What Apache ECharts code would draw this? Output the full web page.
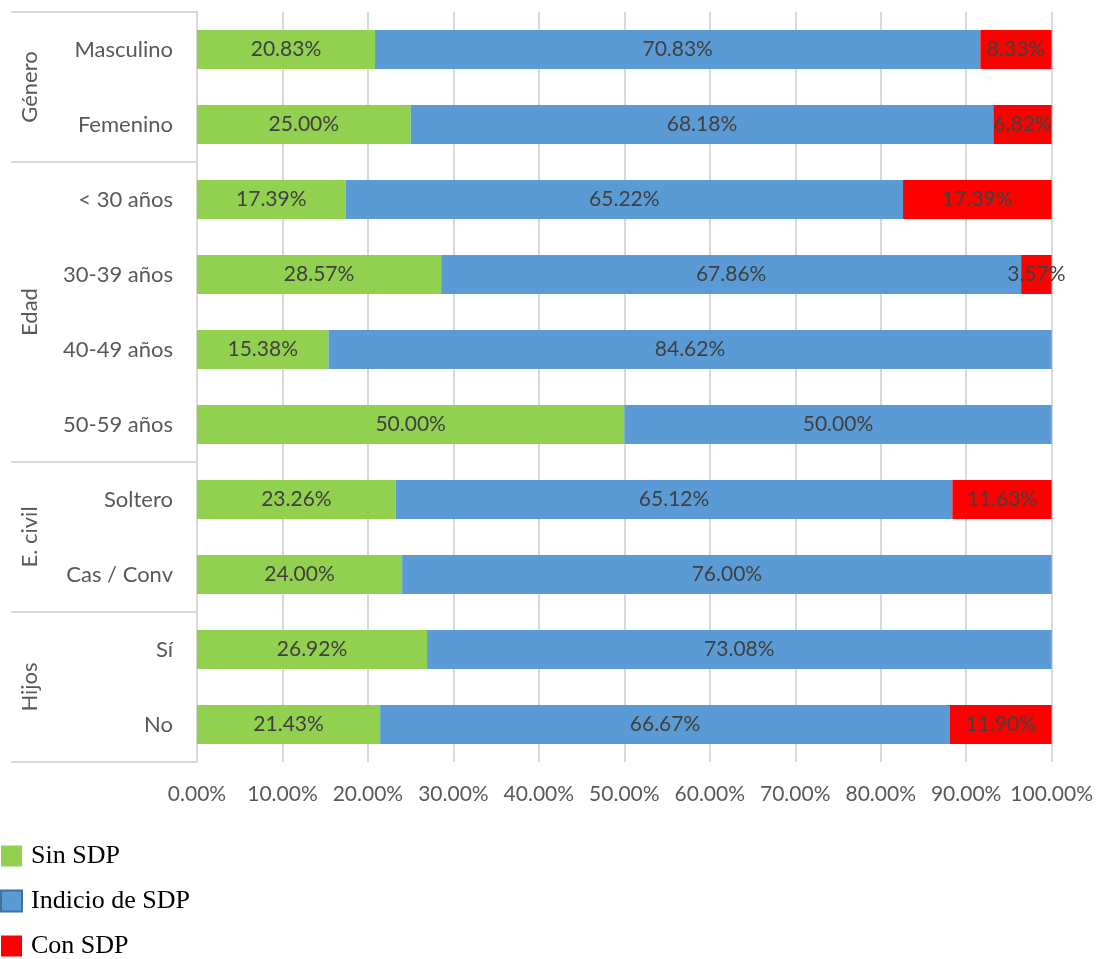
<!DOCTYPE html>
<html>
<head>
<meta charset="utf-8">
<script src="https://cdn.jsdelivr.net/npm/echarts@6/dist/echarts.min.js"></script>
<style>html,body{margin:0;padding:0;background:#fff}#c{width:1096px;height:959px}</style>
</head>
<body>
<div id="c"></div>
<script>
const categories = ['Masculino','Femenino','< 30 años','30-39 años','40-49 años','50-59 años','Soltero','Cas / Conv','Sí','No'];
const groups = [
  {name:'Género', from:0, to:1},
  {name:'Edad', from:2, to:5},
  {name:'E. civil', from:6, to:7},
  {name:'Hijos', from:8, to:9}
];
const sinSDP = [20.83,25.00,17.39,28.57,15.38,50.00,23.26,24.00,26.92,21.43];
const indicioSDP = [70.83,68.18,65.22,67.86,84.62,50.00,65.12,76.00,73.08,66.67];
const conSDP = [8.33,6.82,17.39,3.57,0,0,11.63,0,0,11.90];
const seriesNames = ['Sin SDP','Indicio de SDP','Con SDP'];
const colors = ['#92D050','#5B9BD5','#FF0000'];

const font = 'Lato, "Open Sans", sans-serif';
const chart = echarts.init(document.getElementById('c'));
function mk(name, data, color){
  return {
    name, type:'bar', stack:'t', data, barWidth:39,
    itemStyle:{color},
    label:{show:true, position:'inside', color:'#404040', fontSize:21, fontFamily:font,
      formatter:p=> p.value>0 ? p.value.toFixed(2)+'%' : ''}
  };
}
const option = {
  animation:false,
  grid:{left:197, right:42, top:12, bottom:197, containLabel:false},
  legend:{
    orient:'vertical', left:0, top:843, height:117, itemWidth:21, itemHeight:21, itemGap:19,
    icon:'rect', padding:[0,0,0,0],
    textStyle:{fontFamily:'"Liberation Serif", "Times New Roman", serif', fontSize:26, color:'#000', padding:[0,0,0,4]},
    data:[
      {name:'Sin SDP'},
      {name:'Indicio de SDP', itemStyle:{borderColor:'#41719C', borderWidth:2}},
      {name:'Con SDP'}
    ]
  },
  xAxis:{
    type:'value', min:0, max:100, interval:10,
    axisLine:{show:false}, axisTick:{show:false},
    splitLine:{lineStyle:{color:'#D9D9D9', width:2}},
    axisLabel:{formatter:v=>v.toFixed(2)+'%', color:'#595959', fontSize:21, fontFamily:font, margin:22}
  },
  yAxis:{
    type:'category', inverse:true, data:categories,
    axisLine:{lineStyle:{color:'#D9D9D9', width:2}},
    axisTick:{show:false},
    axisLabel:{color:'#595959', fontSize:22, fontFamily:font, margin:24}
  },
  series:[mk(seriesNames[0], sinSDP, colors[0]), mk(seriesNames[1], indicioSDP, colors[1]), mk(seriesNames[2], conSDP, colors[2])]
};
chart.setOption(option);

function drawGroups(){
  const g = [];
  const x0 = chart.convertToPixel({gridIndex:0}, [0, 0])[0];
  const band = chart.convertToPixel({yAxisIndex:0}, categories[1]) - chart.convertToPixel({yAxisIndex:0}, categories[0]);
  const edges = new Set();
  groups.forEach(gr=>{
    const top = chart.convertToPixel({yAxisIndex:0}, categories[gr.from]) - band/2;
    const bot = chart.convertToPixel({yAxisIndex:0}, categories[gr.to]) + band/2;
    edges.add(Math.round(top)); edges.add(Math.round(bot));
    g.push({type:'text', x:30, y:(top+bot)/2, rotation:Math.PI/2,
      style:{text:gr.name, fill:'#595959', font:'22px '+font, textAlign:'center', textVerticalAlign:'middle'}});
  });
  edges.forEach(y=>{
    g.push({type:'line', shape:{x1:11, y1:y, x2:x0, y2:y}, style:{stroke:'#D9D9D9', lineWidth:2}});
  });
  chart.setOption({graphic:g});
}
drawGroups();
</script>
</body>
</html>
